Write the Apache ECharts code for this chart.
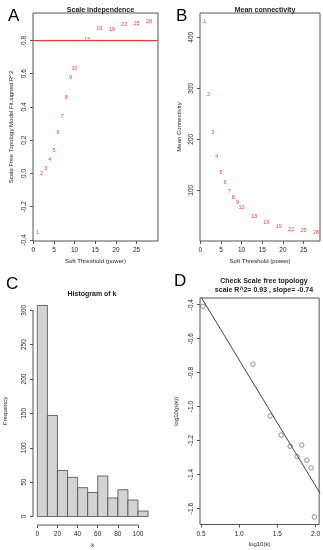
<!DOCTYPE html>
<html><head><meta charset="utf-8">
<script src="https://cdn.jsdelivr.net/npm/echarts@6/dist/echarts.min.js"></script>
<style>html,body{margin:0;padding:0;background:#fff}#c{width:323px;height:550px}</style>
</head><body><div id="c"></div>
<script>
// ---- data ----
const powers = [1,2,3,4,5,6,7,8,9,10,13,16,19,22,25,28];
const sftR2 = [-0.356,0.0,0.03,0.084,0.138,0.246,0.34,0.458,0.576,0.632,0.808,0.874,0.866,0.896,0.902,0.914];
const meanK = [431,287,213,167,135,114.5,98,85,76,66,49,37,29.3,23.4,20.2,17];
const r2Cut = 0.8;
const histBreaks = [0,10,20,30,40,50,60,70,80,90,100,110];
const histCounts = [307,147,67,57,42,35,59,27,39,24,8];
const logK = [0.526,1.18,1.406,1.55,1.668,1.759,1.82,1.886,1.942,1.986];
const logPk = [-0.41,-0.751,-1.055,-1.167,-1.234,-1.294,-1.226,-1.316,-1.361,-1.649];
const fitLineX = [0.50, 2.06];
const fitLineY = [-0.355, -1.51];
// tick labels
const ticksPowerX = [0,5,10,15,20,25];
const ticksR2Y = [-0.4,-0.2,0.0,0.2,0.4,0.6,0.8];
const ticksMeanKY = [100,200,300,400];
const ticksHistX = [0,20,40,60,80,100];
const ticksHistY = [0,50,100,150,200,250,300];
const ticksLogKX = [0.5,1.0,1.5,2.0];
const ticksLogPY = [-1.6,-1.4,-1.2,-1.0,-0.8,-0.6,-0.4];

const FONT = 'Liberation Sans, Arial, sans-serif';
const TXT = '#222';
const BOX = '#555';
const histYMin = -12.3, histXMin = -4.3;

function axis(opt){
  return {
    type:'value', gridIndex:opt.g, min:opt.min, max:opt.max,
    axisLine:{show:false, onZero:false},
    axisTick:{show:true, length:3, inside:false, customValues:opt.ticks, lineStyle:{color:BOX, width:1}},
    axisLabel:{customValues:opt.ticks, fontSize:6.5, color:TXT, fontFamily:FONT, margin:opt.margin||6,
      rotate:opt.rotate||0, formatter:opt.fmt||(v=>String(v))},
    splitLine:{show:false},
    name:opt.name, nameLocation:'middle', nameGap:opt.nameGap,
    nameTextStyle:{fontSize:6, color:TXT, fontFamily:FONT}
  };
}
const f1 = v => (Math.round(v*10)/10).toFixed(1);

const chart = echarts.init(document.getElementById('c'), null, {renderer:'canvas'});
const gridBase = {show:true, borderColor:BOX, borderWidth:1, backgroundColor:'transparent', containLabel:false};
const redLab = {show:true, position:'inside', formatter:p=>String(p.value[2]), fontSize:5.5, color:'#f00', fontFamily:FONT};

chart.setOption({
  animation:false,
  backgroundColor:'#fff',
  title:[
    {text:'A', left:3, top:3, textStyle:{fontSize:17, fontWeight:'normal', color:'#000', fontFamily:FONT}},
    {text:'B', left:171, top:3, textStyle:{fontSize:17, fontWeight:'normal', color:'#000', fontFamily:FONT}},
    {text:'C', left:1, top:271, textStyle:{fontSize:17, fontWeight:'normal', color:'#000', fontFamily:FONT}},
    {text:'D', left:169, top:268, textStyle:{fontSize:17, fontWeight:'normal', color:'#000', fontFamily:FONT}},
    {text:'Scale independence', left:95.5, top:2, textAlign:'center', textStyle:{fontSize:7, fontWeight:'bold', color:TXT, fontFamily:FONT}},
    {text:'Mean connectivity', left:260, top:2, textAlign:'center', textStyle:{fontSize:7, fontWeight:'bold', color:TXT, fontFamily:FONT}},
    {text:'Histogram of k', left:87, top:286, textAlign:'center', textStyle:{fontSize:7, fontWeight:'bold', color:TXT, fontFamily:FONT}},
    {text:'Check Scale free topology\nscale R^2= 0.93 , slope= -0.74', left:259, top:271, textAlign:'center',
      textStyle:{fontSize:7, fontWeight:'bold', color:TXT, fontFamily:FONT, lineHeight:9.5}}
  ],
  grid:[
    Object.assign({left:33, top:13, width:125, height:228}, gridBase),
    Object.assign({left:200, top:13, width:120, height:228}, gridBase),
    {left:33, top:297, width:119.5, height:228, show:false},
    Object.assign({left:200, top:298, width:119.5, height:226.5}, gridBase)
  ],
  xAxis:[
    axis({g:0, min:-0.07, max:30.2, ticks:ticksPowerX, name:'Soft Threshold (power)', nameGap:17}),
    axis({g:1, min:-0.08, max:28.98, ticks:ticksPowerX, name:'Soft Threshold (power)', nameGap:17}),
    axis({g:2, min:histXMin, max:114.4, ticks:ticksHistX, name:'k', nameGap:17}),
    axis({g:3, min:0.487, max:2.048, ticks:ticksLogKX, fmt:f1, name:'log10(k)', nameGap:17})
  ],
  yAxis:[
    axis({g:0, min:-0.406, max:0.965, ticks:ticksR2Y, fmt:f1, rotate:90, margin:5, name:'Scale Free Topology Model Fit,signed R^2', nameGap:19}),
    axis({g:1, min:0.4, max:447.6, ticks:ticksMeanKY, rotate:90, margin:5, name:'Mean Connectivity', nameGap:18}),
    axis({g:2, min:histYMin, max:319.3, ticks:ticksHistY, rotate:90, margin:5, name:'Frequency', nameGap:25}),
    axis({g:3, min:-1.694, max:-0.361, ticks:ticksLogPY, fmt:f1, rotate:90, margin:5, name:'log10(p(k))', nameGap:21})
  ],
  series:[
    {type:'scatter', xAxisIndex:0, yAxisIndex:0, symbolSize:8, itemStyle:{color:'rgba(0,0,0,0)'},
      data:powers.map((p,i)=>[p, sftR2[i], p]), label:redLab, silent:true,
      markLine:{silent:true, symbol:'none', label:{show:false}, lineStyle:{color:'#f33', width:1, type:'solid'},
        data:[{yAxis:r2Cut}]}},
    {type:'scatter', xAxisIndex:1, yAxisIndex:1, symbolSize:8, itemStyle:{color:'rgba(0,0,0,0)'},
      data:powers.map((p,i)=>[p, meanK[i], p]), label:redLab, silent:true},
    {type:'custom', xAxisIndex:2, yAxisIndex:2, silent:true,
      data:histCounts.map((c,i)=>[histBreaks[i], histBreaks[i+1], c]),
      encode:{x:[0,1], y:2},
      renderItem:(params, api)=>{
        const p0 = api.coord([api.value(0), api.value(2)]);
        const p1 = api.coord([api.value(1), 0]);
        return {type:'rect', shape:{x:p0[0], y:p0[1], width:p1[0]-p0[0], height:p1[1]-p0[1]},
          style:{fill:'#d3d3d3', stroke:'#4a4a4a', lineWidth:0.8}};
      }},
    {type:'line', xAxisIndex:2, yAxisIndex:2, clip:false, symbol:'none', silent:true,
      lineStyle:{color:BOX, width:1}, data:[[histXMin, ticksHistY[0]],[histXMin, ticksHistY[ticksHistY.length-1]]]},
    {type:'line', xAxisIndex:2, yAxisIndex:2, clip:false, symbol:'none', silent:true,
      lineStyle:{color:BOX, width:1}, data:[[ticksHistX[0], histYMin],[ticksHistX[ticksHistX.length-1], histYMin]]},
    {type:'line', xAxisIndex:3, yAxisIndex:3, clip:true, symbol:'none', silent:true,
      lineStyle:{color:'#444', width:1}, data:fitLineX.map((x,i)=>[x, fitLineY[i]])},
    {type:'scatter', xAxisIndex:3, yAxisIndex:3, symbol:'circle', symbolSize:4.5, silent:true,
      itemStyle:{color:'rgba(255,255,255,0)', borderColor:'#555', borderWidth:0.8},
      data:logK.map((x,i)=>[x, logPk[i]])}
  ]
});
</script></body></html>
